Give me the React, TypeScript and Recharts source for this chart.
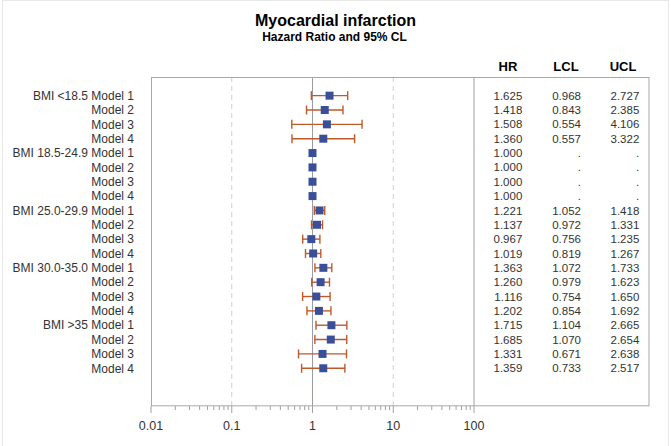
import { ScatterChart, Scatter, XAxis, YAxis, ErrorBar, ReferenceLine } from 'recharts';

const FONT = "'Liberation Sans', Arial, Helvetica, sans-serif";

// one row per model, top to bottom
const rowLabels = [
  'BMI <18.5 Model 1', 'Model 2', 'Model 3', 'Model 4',
  'BMI 18.5-24.9 Model 1', 'Model 2', 'Model 3', 'Model 4',
  'BMI 25.0-29.9 Model 1', 'Model 2', 'Model 3', 'Model 4',
  'BMI 30.0-35.0 Model 1', 'Model 2', 'Model 3', 'Model 4',
  'BMI >35 Model 1', 'Model 2', 'Model 3', 'Model 4',
];
const hr = [
  1.625, 1.418, 1.508, 1.36,
  1.0, 1.0, 1.0, 1.0,
  1.221, 1.137, 0.967, 1.019,
  1.363, 1.26, 1.116, 1.202,
  1.715, 1.685, 1.331, 1.359,
];
const lcl: (number | null)[] = [
  0.968, 0.843, 0.554, 0.557,
  null, null, null, null,
  1.052, 0.972, 0.756, 0.819,
  1.072, 0.979, 0.754, 0.854,
  1.104, 1.07, 0.671, 0.733,
];
const ucl: (number | null)[] = [
  2.727, 2.385, 4.106, 3.322,
  null, null, null, null,
  1.418, 1.331, 1.235, 1.267,
  1.733, 1.623, 1.65, 1.692,
  2.665, 2.654, 2.638, 2.517,
];

const majorTicks = [0.01, 0.1, 1, 10, 100];
const minorSteps = [2, 3, 4, 5, 6, 7, 8, 9];
const xTicks = [
  ...majorTicks,
  ...majorTicks.slice(0, -1).flatMap((d) => minorSteps.map((m) => m * d)),
];
const rowTicks = rowLabels.map((_, i) => i);

const rows = rowLabels.map((label, i) => ({
  row: i,
  label,
  hr: hr[i],
  lcl: lcl[i],
  ucl: ucl[i],
  err: lcl[i] != null && ucl[i] != null ? [hr[i] - (lcl[i] as number), (ucl[i] as number) - hr[i]] : undefined,
}));
const ciRows = rows.filter((r) => r.err);
const refRows = rows.filter((r) => !r.err);

const fmt = (v: number | null) => (v == null ? '.' : v.toFixed(3));

const XTick = (props: any) => {
  const { x, y, payload } = props;
  const major = majorTicks.includes(payload.value);
  return (
    <g>
      <line x1={x} x2={x} y1={y} y2={y + (major ? 7 : 4)} stroke="#a0a0a0" />
      {major && (
        <text x={x} y={y + 23.5} textAnchor="middle" fontSize={12.5} fill="#333" fontFamily={FONT}>
          {payload.value}
        </text>
      )}
    </g>
  );
};

const RowTick = (props: any) => {
  const { x, y, payload } = props;
  return (
    <text x={x} y={y} dy="0.355em" textAnchor="end" fontSize={12} fill="#333" fontFamily={FONT}>
      {rowLabels[payload.value] ?? ''}
    </text>
  );
};

const TableTick = (props: any) => {
  const { x, y, payload } = props;
  const i = payload.value;
  const cols = [
    { dx: 48.3, v: hr[i] },
    { dx: 107, v: lcl[i] },
    { dx: 165.3, v: ucl[i] },
  ];
  return (
    <g>
      {cols.map((c, k) => (
        <text key={k} x={x + c.dx} y={y} dy="0.355em" textAnchor="end" fontSize={11.5} fill="#333" fontFamily={FONT}>
          {fmt(c.v)}
        </text>
      ))}
    </g>
  );
};

export default function App() {
  return (
    <div style={{ position: 'fixed', left: 0, top: 0, width: 671, height: 446, background: '#fff' }}>
      <ScatterChart width={671} height={446} margin={{ top: 77, right: 0, bottom: 0, left: 0 }}>
        <XAxis
          type="number"
          dataKey="hr"
          scale="log"
          domain={[0.01, 100]}
          allowDataOverflow
          ticks={xTicks}
          interval={0}
          height={40}
          tickSize={0}
          tickMargin={0}
          axisLine={false}
          tickLine={false}
          tick={<XTick />}
        />
        <YAxis
          type="number"
          dataKey="row"
          domain={[-1.3, 21.63]}
          allowDataOverflow
          reversed
          ticks={rowTicks}
          interval={0}
          width={151}
          tickSize={0}
          tickMargin={17}
          axisLine={false}
          tickLine={false}
          tick={<RowTick />}
        />
        <YAxis
          yAxisId="right"
          orientation="right"
          type="number"
          domain={[-1.3, 21.63]}
          allowDataOverflow
          reversed
          ticks={rowTicks}
          interval={0}
          width={197}
          tickSize={0}
          tickMargin={0}
          axisLine={false}
          tickLine={false}
          tick={<TableTick />}
        />
        <ReferenceLine x={0.1} stroke="#cfcfcf" strokeDasharray="5 4" />
        <ReferenceLine x={10} stroke="#cfcfcf" strokeDasharray="5 4" />
        <ReferenceLine x={1} stroke="#9a9aa8" />
        <ReferenceLine x={100} stroke="#a0a0a0" />
        <Scatter data={ciRows} fill="#3a4f9a" shape="square" isAnimationActive={false}>
          <ErrorBar dataKey="err" direction="x" width={4.5} stroke="#c0592a" strokeWidth={1.4} isAnimationActive={false} />
        </Scatter>
        <Scatter data={refRows} fill="#3a4f9a" shape="square" isAnimationActive={false} />
      </ScatterChart>
      <svg width={671} height={446} style={{ position: 'absolute', left: 0, top: 0, pointerEvents: 'none' }}>
        <rect x={2.5} y={0.5} width={666} height={460} fill="none" stroke="#d0d0d0" strokeDasharray="1 1" />
        <rect x={151.5} y={77.5} width={497.5} height={328.3} fill="none" stroke="#a8a8a8" />
        <text x={335.5} y={26} textAnchor="middle" fontSize={16} fontWeight="bold" fill="#000" fontFamily={FONT}>
          Myocardial infarction
        </text>
        <text x={334.5} y={41} textAnchor="middle" fontSize={12} fontWeight="bold" fill="#000" fontFamily={FONT}>
          Hazard Ratio and 95% CL
        </text>
        <text x={508} y={71} textAnchor="middle" fontSize={13} fontWeight="bold" fill="#000" fontFamily={FONT}>HR</text>
        <text x={566} y={71} textAnchor="middle" fontSize={13} fontWeight="bold" fill="#000" fontFamily={FONT}>LCL</text>
        <text x={623} y={71} textAnchor="middle" fontSize={13} fontWeight="bold" fill="#000" fontFamily={FONT}>UCL</text>
      </svg>
    </div>
  );
}
